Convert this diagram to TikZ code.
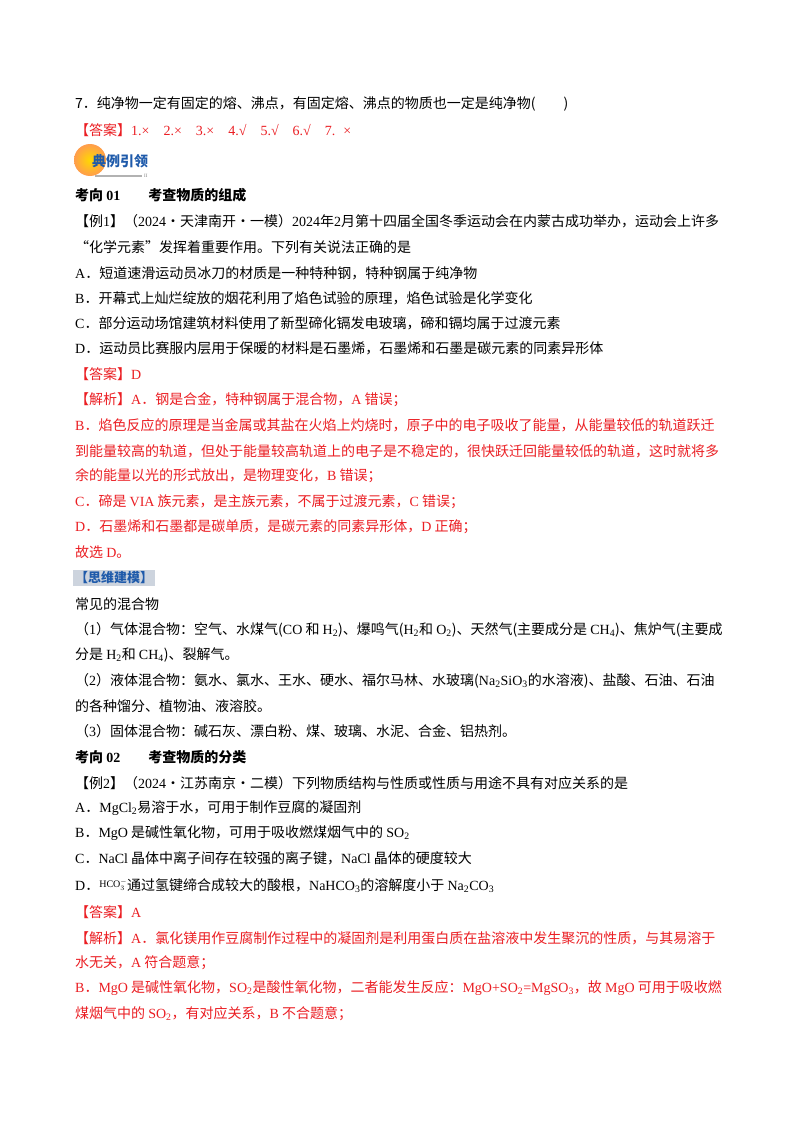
\documentclass[tikz,border=0pt]{standalone}
\usepackage{fontspec}
\setmainfont{Noto Sans CJK SC}
\newfontfamily\enf{Liberation Serif}
\newcommand{\en}[1]{{\enf #1}}
\newcommand{\sbs}[1]{\textsubscript{\enf #1}}
\definecolor{ansred}{RGB}{235,30,35}
\definecolor{hdblue}{RGB}{30,90,170}
\definecolor{hdgrey}{RGB}{205,212,222}
\begin{document}
\begin{tikzpicture}[x=1pt,y=-1pt,
  ln/.style={anchor=west,inner sep=0pt,font=\fontsize{14}{16}\selectfont},
  rd/.style={ln,text=ansred}]
\useasboundingbox[fill=white] (0,0) rectangle (800,1132);
\node[ln] (l1) at (75,104) {7．纯净物一定有固定的熔、沸点，有固定熔、沸点的物质也一定是纯净物(\hspace{2em})};
\node[rd] (l2) at (75,130) {【答案】\en{1.×\hspace{14pt}2.×\hspace{14pt}3.×\hspace{14pt}4.√\hspace{14pt}5.√\hspace{14pt}6.√\hspace{14pt}7.\hspace{8pt}×}};
% logo
\shade[inner color=yellow!70!orange, outer color=orange!90!red!70] (90,160) circle (16);
\draw[gray!60,line width=1.5pt] (95,176) -- (142,176);
\node[ln,font=\fontsize{14}{16}\selectfont\bfseries,text=hdblue] (logo) at (92,161) {典例引领};
\node[ln,font=\fontsize{5}{6}\selectfont,text=gray] (logo2) at (144,176) {\en{II}};
\node[ln,font=\fontsize{14}{16}\selectfont\bfseries] (k1) at (75,195) {考向 \en{\bfseries 01}\hspace{2em}考查物质的组成};
\node[ln] (e1) at (75,221) {【例\en{1}】（\en{2024}·天津南开·一模）\en{2024}年\en{2}月第十四届全国冬季运动会在内蒙古成功举办，运动会上许多};
\node[ln] (e1b) at (75,247) {“化学元素”发挥着重要作用。下列有关说法正确的是};
\node[ln] (a1) at (75,273) {\en{A}．短道速滑运动员冰刀的材质是一种特种钢，特种钢属于纯净物};
\node[ln] (b1) at (75,298) {\en{B}．开幕式上灿烂绽放的烟花利用了焰色试验的原理，焰色试验是化学变化};
\node[ln] (c1) at (75,323) {\en{C}．部分运动场馆建筑材料使用了新型碲化镉发电玻璃，碲和镉均属于过渡元素};
\node[ln] (d1) at (75,348) {\en{D}．运动员比赛服内层用于保暖的材料是石墨烯，石墨烯和石墨是碳元素的同素异形体};
\node[rd] (ans1) at (75,374) {【答案】\en{D}};
\node[rd] (p1) at (75,400) {【解析】\en{A}．钢是合金，特种钢属于混合物，\en{A} 错误；};
\node[rd] (p2) at (75,425) {\en{B}．焰色反应的原理是当金属或其盐在火焰上灼烧时，原子中的电子吸收了能量，从能量较低的轨道跃迁};
\node[rd] (p3) at (75,451) {到能量较高的轨道，但处于能量较高轨道上的电子是不稳定的，很快跃迁回能量较低的轨道，这时就将多};
\node[rd] (p4) at (75,476) {余的能量以光的形式放出，是物理变化，\en{B} 错误；};
\node[rd] (p5) at (75,502) {\en{C}．碲是 \en{VIA} 族元素，是主族元素，不属于过渡元素，\en{C} 错误；};
\node[rd] (p6) at (75,527) {\en{D}．石墨烯和石墨都是碳单质，是碳元素的同素异形体，\en{D} 正确；};
\node[rd] (p7) at (75,552) {故选 \en{D}。};
\node[ln,fill=hdgrey,inner sep=2pt,text=hdblue,font=\fontsize{13}{15}\selectfont\bfseries] (sw) at (73,578) {【思维建模】};
\node[ln] (m0) at (75,604) {常见的混合物};
\node[ln] (m1) at (75,630) {（\en{1}）气体混合物：空气、水煤气(\en{CO} 和 \en{H}\sbs{2})、爆鸣气(\en{H}\sbs{2}和 \en{O}\sbs{2})、天然气(主要成分是 \en{CH}\sbs{4})、焦炉气(主要成};
\node[ln] (m1b) at (75,655) {分是 \en{H}\sbs{2}和 \en{CH}\sbs{4})、裂解气。};
\node[ln] (m2) at (75,681) {（\en{2}）液体混合物：氨水、氯水、王水、硬水、福尔马林、水玻璃(\en{Na}\sbs{2}\en{SiO}\sbs{3}的水溶液)、盐酸、石油、石油};
\node[ln] (m2b) at (75,706) {的各种馏分、植物油、液溶胶。};
\node[ln] (m3) at (75,731) {（\en{3}）固体混合物：碱石灰、漂白粉、煤、玻璃、水泥、合金、铝热剂。};
\node[ln,font=\fontsize{14}{16}\selectfont\bfseries] (k2) at (75,757) {考向 \en{\bfseries 02}\hspace{2em}考查物质的分类};
\node[ln] (e2) at (75,783) {【例\en{2}】（\en{2024}·江苏南京·二模）下列物质结构与性质或性质与用途不具有对应关系的是};
\node[ln] (a2) at (75,808) {\en{A}．\en{MgCl}\sbs{2}易溶于水，可用于制作豆腐的凝固剂};
\node[ln] (b2) at (75,833) {\en{B}．\en{MgO} 是碱性氧化物，可用于吸收燃煤烟气中的 \en{SO}\sbs{2}};
\node[ln] (c2) at (75,858) {\en{C}．\en{NaCl} 晶体中离子间存在较强的离子键，\en{NaCl} 晶体的硬度较大};
\node[ln] (d2) at (75,886) {\en{D}．\raisebox{3pt}{\fontsize{10}{10}\selectfont\en{HCO}$_3^-$}通过氢键缔合成较大的酸根，\en{NaHCO}\sbs{3}的溶解度小于 \en{Na}\sbs{2}\en{CO}\sbs{3}};
\node[rd] (ans2) at (75,912) {【答案】\en{A}};
\node[rd] (q1) at (75,938) {【解析】\en{A}．氯化镁用作豆腐制作过程中的凝固剂是利用蛋白质在盐溶液中发生聚沉的性质，与其易溶于};
\node[rd] (q2) at (75,963) {水无关，\en{A} 符合题意；};
\node[rd] (q3) at (75,988) {\en{B}．\en{MgO} 是碱性氧化物，\en{SO}\sbs{2}是酸性氧化物，二者能发生反应：\en{MgO+SO}\sbs{2}\en{=MgSO}\sbs{3}，故 \en{MgO} 可用于吸收燃};
\node[rd] (q4) at (75,1014) {煤烟气中的 \en{SO}\sbs{2}，有对应关系，\en{B} 不合题意；};
\end{tikzpicture}
\end{document}
